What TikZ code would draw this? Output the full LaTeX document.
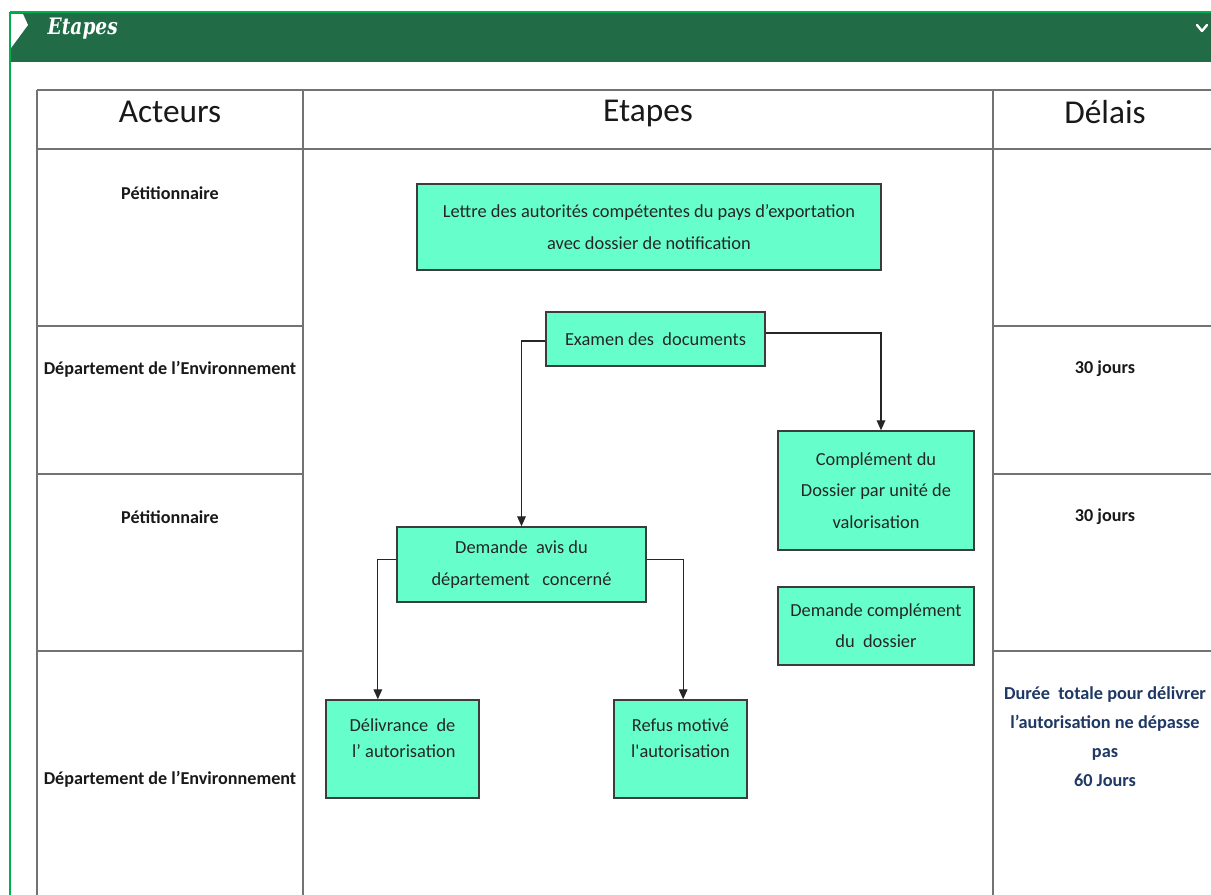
\documentclass[tikz,border=0pt]{standalone}
\usepackage{fontspec}
\setmainfont{Carlito}
\newfontfamily\hdrfont[FakeStretch=0.82]{DejaVu Serif}
\usetikzlibrary{arrows.meta}
\definecolor{barGreen}{RGB}{33,107,71}
\definecolor{lineGreen}{RGB}{0,176,80}
\definecolor{boxFill}{RGB}{102,255,204}
\definecolor{boxLine}{RGB}{60,60,60}
\definecolor{tabLine}{RGB}{115,115,115}
\definecolor{navyText}{RGB}{31,56,100}
\begin{document}
\begin{tikzpicture}[x=0.75pt,y=-0.75pt,
  flowbox/.style={draw=boxLine, line width=1.1pt, fill=boxFill, inner sep=0pt,
    align=center, text=black!85, font=\fontsize{13.8}{23.5}\selectfont},
  tabrule/.style={draw=tabLine, line width=1.2pt},
  colhead/.style={font=\fontsize{25}{30}\selectfont, text=black!90},
  actor/.style={font=\bfseries\fontsize{13.6}{16}\selectfont, text=black!90, align=center},
  navynote/.style={font=\bfseries\fontsize{13.7}{21.75}\selectfont, text=navyText, align=center},
  conn/.style={draw=black!85, line width=0.9pt, -{Triangle[length=7.5pt,width=6.5pt]}}
]
\useasboundingbox (0,0) rectangle (1211,895);
\fill[white] (0,0) rectangle (1211,895);

% header bar
\fill[barGreen] (10,12) rectangle (1211,62);
\draw[lineGreen, line width=1.3pt] (10,12) -- (1211,12);
\draw[lineGreen, line width=1.5pt] (10,12) -- (10,895);
\fill[white] (11,14) -- (23,14) -- (28,25) -- (11,48) -- cycle;
\draw[white, line width=1.8pt, line cap=round, line join=round] (1197,25) -- (1202,31) -- (1207,25);
\node[anchor=west, text=white, font=\hdrfont\bfseries\itshape\fontsize{17}{20}\selectfont] (bartitle) at (43,29) {Etapes};

% table
\draw[tabrule] (37,90) -- (1211,90);
\draw[tabrule] (37,149) -- (1211,149);
\draw[tabrule] (37,90) -- (37,895);
\draw[tabrule] (303,90) -- (303,895);
\draw[tabrule] (993,90) -- (993,895);
\foreach \yy in {326,474,651} {
  \draw[tabrule] (37,\yy) -- (303,\yy);
  \draw[tabrule] (993,\yy) -- (1211,\yy);
}

% column heads
\node[colhead] (hA) at (170,112) {Acteurs};
\node[colhead] (hE) at (648,113) {Etapes};
\node[colhead] (hD) at (1105,112) {Délais};

% actors
\node[actor] (a1) at (170,193) {Pétitionnaire};
\node[actor] (a2) at (170,369) {Département de l’Environnement};
\node[actor] (a3) at (170,517) {Pétitionnaire};
\node[actor] (a4) at (170,779) {Département de l’Environnement};

% delays
\node[actor] (d1) at (1105,369) {30 jours};
\node[actor] (d2) at (1105,517) {30 jours};
\node[navynote] (d3) at (1105,737) {Durée\ \ totale pour délivrer\\l’autorisation ne dépasse\\pas\\60 Jours};

% flow boxes
\node[flowbox, minimum width=348pt, minimum height=64.5pt] (lettre) at (649,227)
  {Lettre des autorités compétentes du pays d’exportation\\avec dossier de notification};
\node[flowbox, minimum width=164.25pt, minimum height=40.5pt] (exam) at (655.5,339)
  {Examen des\ \ documents};
\node[flowbox, minimum width=147pt, minimum height=89.25pt] (comp) at (876,490.5)
  {Complément du\\Dossier par unité de\\valorisation};
\node[flowbox, minimum width=186.75pt, minimum height=56.25pt] (dem) at (521.5,564.5)
  {Demande\ \ avis du\\département\ \ \ concerné};
\node[flowbox, minimum width=147pt, minimum height=58.5pt] (demcomp) at (876,626)
  {Demande complément\\du\ \ dossier};
\node[flowbox, minimum width=114.75pt, minimum height=73.5pt,
  font=\fontsize{13.8}{19.5}\selectfont] (deliv) at (402.5,749)
  {\raisebox{-3pt}{Délivrance\ \ de}\\\raisebox{-3pt}{\hspace*{2pt}l’ autorisation}\\\mbox{}};
\node[flowbox, minimum width=99.75pt, minimum height=73.5pt,
  font=\fontsize{13.8}{19.5}\selectfont] (refus) at (680.5,749)
  {\raisebox{-3pt}{Refus motivé}\\\raisebox{-3pt}{l\textquotesingle autorisation}\\\mbox{}};

% connectors
\draw[conn] ([yshift=-1.5pt]exam.west) -| (dem.north);
\draw[conn] ([yshift=4.5pt]exam.east) -| ([xshift=3.75pt]comp.north);
\draw[conn] ([yshift=3.5pt]dem.west) -| ([xshift=-18.5pt]deliv.north);
\draw[conn] ([yshift=3.5pt]dem.east) -| ([xshift=2pt]refus.north);
\end{tikzpicture}
\end{document}
